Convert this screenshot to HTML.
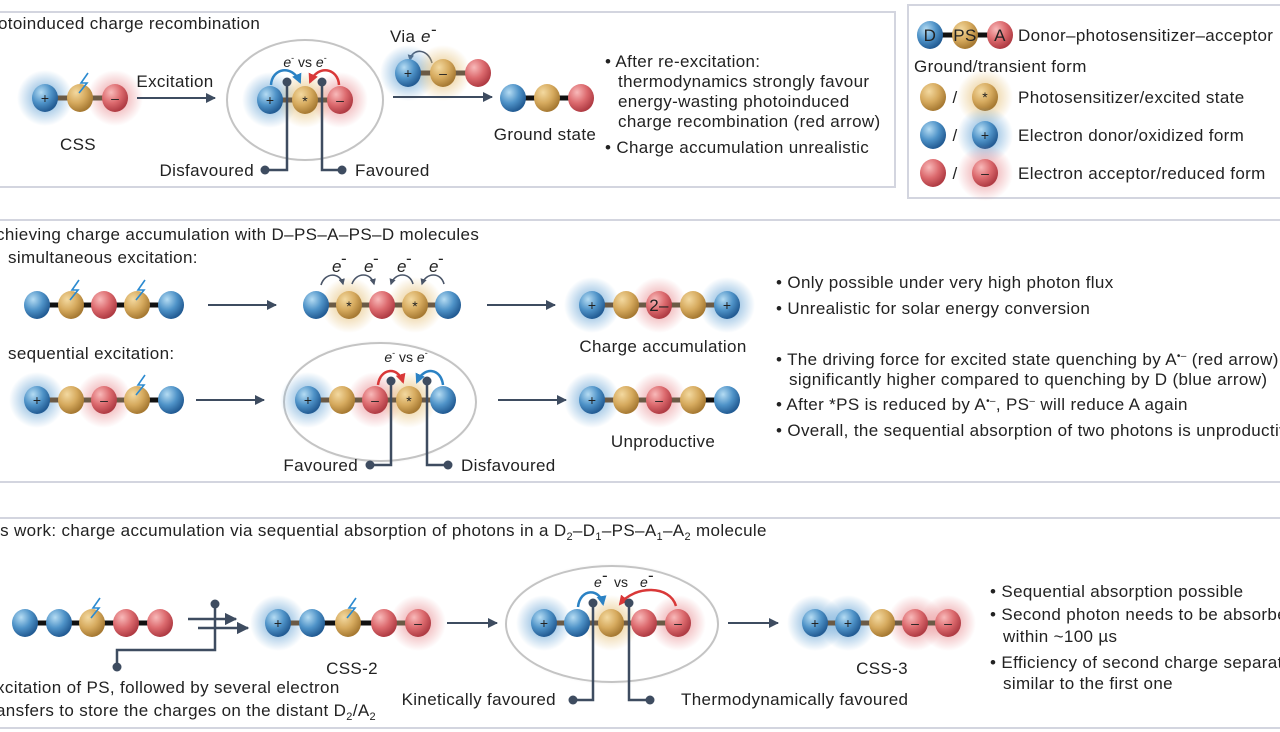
<!DOCTYPE html>
<html><head><meta charset="utf-8"><style>
html,body{margin:0;padding:0;background:#fff;}
svg{display:block;font-family:"Liberation Sans",sans-serif;}
text{fill:#222;font-size:17px;letter-spacing:0.35px;}
.s{font-size:14px;letter-spacing:0;}
.c{text-anchor:middle;}
</style></head><body>
<svg width="1280" height="732" viewBox="0 0 1280 732" xmlns="http://www.w3.org/2000/svg">
<defs>
<radialGradient id="gB" cx="35%" cy="30%" r="70%"><stop offset="0" stop-color="#b5dcf3"/><stop offset="0.55" stop-color="#4f93c8"/><stop offset="1" stop-color="#235c94"/></radialGradient>
<radialGradient id="gY" cx="35%" cy="30%" r="70%"><stop offset="0" stop-color="#f3d9a0"/><stop offset="0.55" stop-color="#d6aa5e"/><stop offset="1" stop-color="#a77a33"/></radialGradient>
<radialGradient id="gR" cx="35%" cy="30%" r="70%"><stop offset="0" stop-color="#f8b9b9"/><stop offset="0.55" stop-color="#dc6a6e"/><stop offset="1" stop-color="#b03c44"/></radialGradient>
<radialGradient id="hB"><stop offset="0.4" stop-color="#5f9fd3" stop-opacity="0.55"/><stop offset="1" stop-color="#5f9fd3" stop-opacity="0"/></radialGradient>
<radialGradient id="hY"><stop offset="0.4" stop-color="#e4bd72" stop-opacity="0.55"/><stop offset="1" stop-color="#e4bd72" stop-opacity="0"/></radialGradient>
<radialGradient id="hR"><stop offset="0.4" stop-color="#e57f84" stop-opacity="0.5"/><stop offset="1" stop-color="#e57f84" stop-opacity="0"/></radialGradient>
<radialGradient id="sh"><stop offset="0.85" stop-color="#fff"/><stop offset="1" stop-color="#ddd" stop-opacity="0"/></radialGradient>
<ellipse id="B" rx="13" ry="14" fill="url(#gB)"/>
<ellipse id="Y" rx="13" ry="14" fill="url(#gY)"/>
<ellipse id="R" rx="13" ry="14" fill="url(#gR)"/>
<circle id="HB" r="28" fill="url(#hB)"/>
<circle id="HY" r="28" fill="url(#hY)"/>
<circle id="HR" r="28" fill="url(#hR)"/>
<marker id="ar" viewBox="0 0 10 10" refX="9" refY="5" markerWidth="5" markerHeight="5" orient="auto"><path d="M0,0L10,5L0,10z" fill="#3e4c60"/></marker>
<marker id="arB" viewBox="0 0 10 10" refX="8" refY="5" markerWidth="4" markerHeight="4" orient="auto"><path d="M0,0L10,5L0,10z" fill="#2b82c4"/></marker>
<marker id="arR" viewBox="0 0 10 10" refX="8" refY="5" markerWidth="4" markerHeight="4" orient="auto"><path d="M0,0L10,5L0,10z" fill="#d93838"/></marker>
<marker id="arG" viewBox="0 0 10 10" refX="8" refY="5" markerWidth="4" markerHeight="4" orient="auto"><path d="M0,0L10,5L0,10z" fill="#4a5568"/></marker>
<path id="bolt" d="M6,-22 L-1,-12 L5,-12 L-3,-2" fill="none" stroke="#2b8ad0" stroke-width="1.6"/>
</defs>

<g stroke="#d3d5df" stroke-width="2" fill="none">
<path d="M-2,12 H895 V187 H-2"/>
<rect x="908" y="5" width="380" height="193"/>
<line x1="0" y1="220" x2="1280" y2="220"/>
<line x1="0" y1="482" x2="1280" y2="482"/>
<line x1="0" y1="518" x2="1280" y2="518"/>
<line x1="0" y1="728" x2="1280" y2="728"/>
</g>

<!-- SECTION 1 -->
<text x="-2" y="29">otoinduced charge recombination</text>
<use href="#HB" x="45" y="98"/><use href="#HR" x="115" y="98"/>
<line x1="45" y1="98" x2="115" y2="98" stroke="#6b5a45" stroke-width="5"/>
<use href="#B" x="45" y="98"/><use href="#Y" x="80" y="98"/><use href="#R" x="115" y="98"/>
<text x="45" y="103" class="s c">+</text><text x="115" y="103" class="s c">–</text>
<use href="#bolt" x="82" y="95"/>
<text x="78" y="150" class="c">CSS</text>
<text x="175" y="87" class="c">Excitation</text>
<line x1="137" y1="98" x2="215" y2="98" stroke="#3e4c60" stroke-width="2" marker-end="url(#ar)"/>
<ellipse cx="305" cy="100" rx="80" ry="62" fill="url(#sh)"/>
<ellipse cx="305" cy="100" rx="78" ry="60" fill="#fff" stroke="#c4c4c4" stroke-width="2"/>
<use href="#HB" x="270" y="100"/><use href="#HY" x="305" y="100"/><use href="#HR" x="340" y="100"/>
<line x1="270" y1="100" x2="340" y2="100" stroke="#6b5a45" stroke-width="5"/>
<use href="#B" x="270" y="100"/><use href="#Y" x="305" y="100"/><use href="#R" x="340" y="100"/>
<text x="270" y="105" class="s c">+</text><text x="305" y="106" class="s c">*</text><text x="340" y="105" class="s c">–</text>
<path d="M271,85 C272,68 292,64 300,82" fill="none" stroke="#2b82c4" stroke-width="2.5" marker-end="url(#arB)"/>
<path d="M339,85 C338,68 318,64 310,82" fill="none" stroke="#d93838" stroke-width="2.5" marker-end="url(#arR)"/>
<text x="305" y="67" class="s c"><tspan font-style="italic">e</tspan><tspan dy="-6" font-size="9">-</tspan><tspan dy="6"> vs </tspan><tspan font-style="italic">e</tspan><tspan dy="-6" font-size="9">-</tspan></text>
<g stroke="#3e4c60" stroke-width="2.5" fill="none"><path d="M287,82 V170 H265"/><path d="M322,82 V170 H342"/></g>
<g fill="#3e4c60"><circle cx="287" cy="82" r="4.5"/><circle cx="322" cy="82" r="4.5"/><circle cx="265" cy="170" r="4.5"/><circle cx="342" cy="170" r="4.5"/></g>
<text x="254" y="176" text-anchor="end">Disfavoured</text><text x="355" y="176">Favoured</text>
<text x="390" y="42">Via</text><text x="421" y="42" font-style="italic">e</text><text x="431" y="35" font-size="10">-</text>
<path d="M432,63 C428,48 412,48 410,60" fill="none" stroke="#4a5568" stroke-width="1.6" marker-end="url(#arG)"/>
<use href="#HB" x="408" y="73"/><use href="#HY" x="443" y="73"/>
<line x1="408" y1="73" x2="478" y2="73" stroke="#6b5a45" stroke-width="5"/>
<use href="#B" x="408" y="73"/><use href="#Y" x="443" y="73"/><use href="#R" x="478" y="73"/>
<text x="408" y="78" class="s c">+</text><text x="443" y="78" class="s c">–</text>
<line x1="393" y1="97" x2="492" y2="97" stroke="#3e4c60" stroke-width="2" marker-end="url(#ar)"/>
<line x1="513" y1="98" x2="581" y2="98" stroke="#111" stroke-width="5"/>
<use href="#B" x="513" y="98"/><use href="#Y" x="547" y="98"/><use href="#R" x="581" y="98"/>
<text x="545" y="140" class="c">Ground state</text>
<text x="605" y="67">• After re-excitation:</text>
<text x="618" y="87">thermodynamics strongly favour</text>
<text x="618" y="107">energy-wasting photoinduced</text>
<text x="618" y="127">charge recombination (red arrow)</text>
<text x="605" y="153">• Charge accumulation unrealistic</text>

<!-- LEGEND -->
<line x1="930" y1="35" x2="1000" y2="35" stroke="#111" stroke-width="5"/>
<use href="#B" x="930" y="35"/><use href="#Y" x="965" y="35"/><use href="#R" x="1000" y="35"/>
<text x="930" y="41" class="c">D</text><text x="965" y="41" class="c" font-size="15">PS</text><text x="1000" y="41" class="c">A</text>
<text x="1018" y="41">Donor–photosensitizer–acceptor</text>
<text x="914" y="72">Ground/transient form</text>
<use href="#Y" x="933" y="97"/><text x="955" y="103" class="c">/</text><use href="#HY" x="985" y="97"/><use href="#Y" x="985" y="97"/><text x="985" y="102" class="s c">*</text>
<text x="1018" y="103">Photosensitizer/excited state</text>
<use href="#B" x="933" y="135"/><text x="955" y="141" class="c">/</text><use href="#HB" x="985" y="135"/><use href="#B" x="985" y="135"/><text x="985" y="140" class="s c">+</text>
<text x="1018" y="141">Electron donor/oxidized form</text>
<use href="#R" x="933" y="173"/><text x="955" y="179" class="c">/</text><use href="#HR" x="985" y="173"/><use href="#R" x="985" y="173"/><text x="985" y="178" class="s c">–</text>
<text x="1018" y="179">Electron acceptor/reduced form</text>

<!-- SECTION 2 -->
<text x="-4" y="240">chieving charge accumulation with D–PS–A–PS–D molecules</text>
<text x="8" y="263">simultaneous excitation:</text>
<line x1="37" y1="305" x2="171" y2="305" stroke="#111" stroke-width="5"/>
<use href="#B" x="37" y="305"/><use href="#Y" x="71" y="305"/><use href="#R" x="104" y="305"/><use href="#Y" x="137" y="305"/><use href="#B" x="171" y="305"/>
<use href="#bolt" x="73" y="302"/><use href="#bolt" x="139" y="302"/>
<line x1="208" y1="305" x2="276" y2="305" stroke="#3e4c60" stroke-width="2" marker-end="url(#ar)"/>
<use href="#HY" x="349" y="305"/><use href="#HY" x="415" y="305"/>
<line x1="316" y1="305" x2="447" y2="305" stroke="#6b5a45" stroke-width="5"/>
<use href="#B" x="316" y="305"/><use href="#Y" x="349" y="305"/><use href="#R" x="382" y="305"/><use href="#Y" x="415" y="305"/><use href="#B" x="448" y="305"/>
<text x="349" y="311" class="s c">*</text><text x="415" y="311" class="s c">*</text>
<g fill="none" stroke="#4a5568" stroke-width="1.6">
<path d="M321,285 C325,272 340,272 343,284" marker-end="url(#arG)"/>
<path d="M352,284 C356,272 371,272 374,284" marker-end="url(#arG)"/>
<path d="M413,284 C410,272 395,272 391,284" marker-end="url(#arG)"/>
<path d="M444,284 C441,272 426,272 422,284" marker-end="url(#arG)"/>
</g>
<g font-style="italic"><text x="332" y="272">e</text><text x="364" y="272">e</text><text x="397" y="272">e</text><text x="429" y="272">e</text></g>
<g><text x="341" y="264" font-size="10">-</text><text x="373" y="264" font-size="10">-</text><text x="406" y="264" font-size="10">-</text><text x="438" y="264" font-size="10">-</text></g>
<line x1="487" y1="305" x2="555" y2="305" stroke="#3e4c60" stroke-width="2" marker-end="url(#ar)"/>
<use href="#HB" x="592" y="305"/><use href="#HR" x="659" y="305"/><use href="#HB" x="727" y="305"/>
<line x1="592" y1="305" x2="727" y2="305" stroke="#6b5a45" stroke-width="5"/>
<use href="#B" x="592" y="305"/><use href="#Y" x="626" y="305"/><use href="#R" x="659" y="305"/><use href="#Y" x="693" y="305"/><use href="#B" x="727" y="305"/>
<text x="592" y="310" class="s c">+</text><text x="659" y="311" class="c">2–</text><text x="727" y="310" class="s c">+</text>
<text x="663" y="352" class="c">Charge accumulation</text>
<text x="776" y="288">• Only possible under very high photon flux</text>
<text x="776" y="314">• Unrealistic for solar energy conversion</text>
<text x="8" y="359">sequential excitation:</text>
<use href="#HB" x="37" y="400"/><use href="#HR" x="104" y="400"/>
<line x1="37" y1="400" x2="171" y2="400" stroke="#6b5a45" stroke-width="5"/>
<line x1="137" y1="400" x2="171" y2="400" stroke="#111" stroke-width="5"/>
<use href="#B" x="37" y="400"/><use href="#Y" x="71" y="400"/><use href="#R" x="104" y="400"/><use href="#Y" x="137" y="400"/><use href="#B" x="171" y="400"/>
<text x="37" y="405" class="s c">+</text><text x="104" y="405" class="s c">–</text>
<use href="#bolt" x="139" y="397"/>
<line x1="196" y1="400" x2="264" y2="400" stroke="#3e4c60" stroke-width="2" marker-end="url(#ar)"/>
<ellipse cx="380" cy="402" rx="98" ry="62" fill="url(#sh)"/>
<ellipse cx="380" cy="402" rx="96" ry="59" fill="#fff" stroke="#c4c4c4" stroke-width="2"/>
<use href="#HB" x="308" y="400"/><use href="#HR" x="375" y="400"/><use href="#HY" x="409" y="400"/>
<line x1="308" y1="400" x2="443" y2="400" stroke="#6b5a45" stroke-width="5"/>
<use href="#B" x="308" y="400"/><use href="#Y" x="342" y="400"/><use href="#R" x="375" y="400"/><use href="#Y" x="409" y="400"/><use href="#B" x="443" y="400"/>
<text x="308" y="405" class="s c">+</text><text x="375" y="405" class="s c">–</text><text x="409" y="406" class="s c">*</text>
<path d="M378,385 C380,368 398,366 403,382" fill="none" stroke="#d93838" stroke-width="2.5" marker-end="url(#arR)"/>
<path d="M443,385 C441,368 424,366 417,382" fill="none" stroke="#2b82c4" stroke-width="2.5" marker-end="url(#arB)"/>
<text x="406" y="362" class="s c"><tspan font-style="italic">e</tspan><tspan dy="-6" font-size="9">-</tspan><tspan dy="6"> vs </tspan><tspan font-style="italic">e</tspan><tspan dy="-6" font-size="9">-</tspan></text>
<g stroke="#3e4c60" stroke-width="2.5" fill="none"><path d="M391,381 V465 H370"/><path d="M427,381 V465 H448"/></g>
<g fill="#3e4c60"><circle cx="391" cy="381" r="4.5"/><circle cx="427" cy="381" r="4.5"/><circle cx="370" cy="465" r="4.5"/><circle cx="448" cy="465" r="4.5"/></g>
<text x="358" y="471" text-anchor="end">Favoured</text><text x="461" y="471">Disfavoured</text>
<line x1="498" y1="400" x2="566" y2="400" stroke="#3e4c60" stroke-width="2" marker-end="url(#ar)"/>
<use href="#HB" x="592" y="400"/><use href="#HR" x="659" y="400"/>
<line x1="592" y1="400" x2="693" y2="400" stroke="#6b5a45" stroke-width="5"/>
<line x1="693" y1="400" x2="727" y2="400" stroke="#111" stroke-width="5"/>
<use href="#B" x="592" y="400"/><use href="#Y" x="626" y="400"/><use href="#R" x="659" y="400"/><use href="#Y" x="693" y="400"/><use href="#B" x="727" y="400"/>
<text x="592" y="405" class="s c">+</text><text x="659" y="405" class="s c">–</text>
<text x="663" y="447" class="c">Unproductive</text>
<text x="776" y="365">• The driving force for excited state quenching by A<tspan dy="-6" font-size="10">•–</tspan><tspan dy="6"> (red arrow) is</tspan></text>
<text x="789" y="385">significantly higher compared to quenching by D (blue arrow)</text>
<text x="776" y="410">• After *PS is reduced by A<tspan dy="-6" font-size="10">•–</tspan><tspan dy="6">, PS</tspan><tspan dy="-6" font-size="10">–</tspan><tspan dy="6"> will reduce A again</tspan></text>
<text x="776" y="436">• Overall, the sequential absorption of two photons is unproductive</text>

<!-- SECTION 3 -->
<text x="-4" y="536">is work: charge accumulation via sequential absorption of photons in a D<tspan dy="4" font-size="11">2</tspan><tspan dy="-4">–D</tspan><tspan dy="4" font-size="11">1</tspan><tspan dy="-4">–PS–A</tspan><tspan dy="4" font-size="11">1</tspan><tspan dy="-4">–A</tspan><tspan dy="4" font-size="11">2</tspan><tspan dy="-4"> molecule</tspan></text>
<line x1="25" y1="623" x2="160" y2="623" stroke="#111" stroke-width="5"/>
<use href="#B" x="25" y="623"/><use href="#B" x="59" y="623"/><use href="#Y" x="92" y="623"/><use href="#R" x="126" y="623"/><use href="#R" x="160" y="623"/>
<use href="#bolt" x="94" y="620"/>
<g stroke="#3e4c60" stroke-width="2.5" fill="none">
<line x1="188" y1="619" x2="236" y2="619" marker-end="url(#ar)"/>
<line x1="198" y1="628" x2="248" y2="628" marker-end="url(#ar)"/>
<path d="M215,604 V650 H117 V666"/></g>
<circle cx="215" cy="604" r="4.5" fill="#3e4c60"/><circle cx="117" cy="667" r="4.5" fill="#3e4c60"/>
<use href="#HB" x="278" y="623"/><use href="#HR" x="418" y="623"/>
<line x1="278" y1="623" x2="418" y2="623" stroke="#111" stroke-width="5"/>
<line x1="278" y1="623" x2="312" y2="623" stroke="#6b5a45" stroke-width="5"/><line x1="384" y1="623" x2="418" y2="623" stroke="#6b5a45" stroke-width="5"/>
<use href="#B" x="278" y="623"/><use href="#B" x="312" y="623"/><use href="#Y" x="348" y="623"/><use href="#R" x="384" y="623"/><use href="#R" x="418" y="623"/>
<text x="278" y="628" class="s c">+</text><text x="418" y="628" class="s c">–</text>
<use href="#bolt" x="350" y="620"/>
<text x="352" y="674" class="c">CSS-2</text>
<line x1="447" y1="623" x2="497" y2="623" stroke="#3e4c60" stroke-width="2" marker-end="url(#ar)"/>
<ellipse cx="612" cy="624" rx="108" ry="61" fill="url(#sh)"/>
<ellipse cx="612" cy="624" rx="106" ry="58" fill="#fff" stroke="#c4c4c4" stroke-width="2"/>
<use href="#HB" x="544" y="623"/><use href="#HY" x="611" y="623"/><use href="#HR" x="678" y="623"/>
<line x1="544" y1="623" x2="678" y2="623" stroke="#6b5a45" stroke-width="5"/>
<use href="#B" x="544" y="623"/><use href="#B" x="577" y="623"/><use href="#Y" x="611" y="623"/><use href="#R" x="644" y="623"/><use href="#R" x="678" y="623"/>
<text x="544" y="628" class="s c">+</text><text x="678" y="628" class="s c">–</text>
<path d="M578,607 C580,588 600,588 603,604" fill="none" stroke="#2b82c4" stroke-width="2.5" marker-end="url(#arB)"/>
<path d="M676,606 C670,585 635,585 620,604" fill="none" stroke="#d93838" stroke-width="2.5" marker-end="url(#arR)"/>
<text x="594" y="587" class="s" font-style="italic">e</text><text x="602" y="581" font-size="10">-</text>
<text x="614" y="587" class="s">vs</text>
<text x="640" y="587" class="s" font-style="italic">e</text><text x="648" y="581" font-size="10">-</text>
<g stroke="#3e4c60" stroke-width="2.5" fill="none"><path d="M593,603 V700 H573"/><path d="M629,603 V700 H650"/></g>
<g fill="#3e4c60"><circle cx="593" cy="603" r="4.5"/><circle cx="629" cy="603" r="4.5"/><circle cx="573" cy="700" r="4.5"/><circle cx="650" cy="700" r="4.5"/></g>
<text x="556" y="705" text-anchor="end">Kinetically favoured</text><text x="681" y="705">Thermodynamically favoured</text>
<line x1="728" y1="623" x2="778" y2="623" stroke="#3e4c60" stroke-width="2" marker-end="url(#ar)"/>
<use href="#HB" x="815" y="623"/><use href="#HB" x="848" y="623"/><use href="#HR" x="915" y="623"/><use href="#HR" x="948" y="623"/>
<line x1="815" y1="623" x2="948" y2="623" stroke="#6b5a45" stroke-width="5"/>
<use href="#B" x="815" y="623"/><use href="#B" x="848" y="623"/><use href="#Y" x="882" y="623"/><use href="#R" x="915" y="623"/><use href="#R" x="948" y="623"/>
<text x="815" y="628" class="s c">+</text><text x="848" y="628" class="s c">+</text><text x="915" y="628" class="s c">–</text><text x="948" y="628" class="s c">–</text>
<text x="882" y="674" class="c">CSS-3</text>
<text x="990" y="597">• Sequential absorption possible</text>
<text x="990" y="620">• Second photon needs to be absorbed</text>
<text x="1003" y="642">within ~100 µs</text>
<text x="990" y="668">• Efficiency of second charge separation</text>
<text x="1003" y="689">similar to the first one</text>
<text x="-4" y="693">xcitation of PS, followed by several electron</text>
<text x="-4" y="716">ansfers to store the charges on the distant D<tspan dy="4" font-size="11">2</tspan><tspan dy="-4">/A</tspan><tspan dy="4" font-size="11">2</tspan></text>
</svg>
</body></html>
